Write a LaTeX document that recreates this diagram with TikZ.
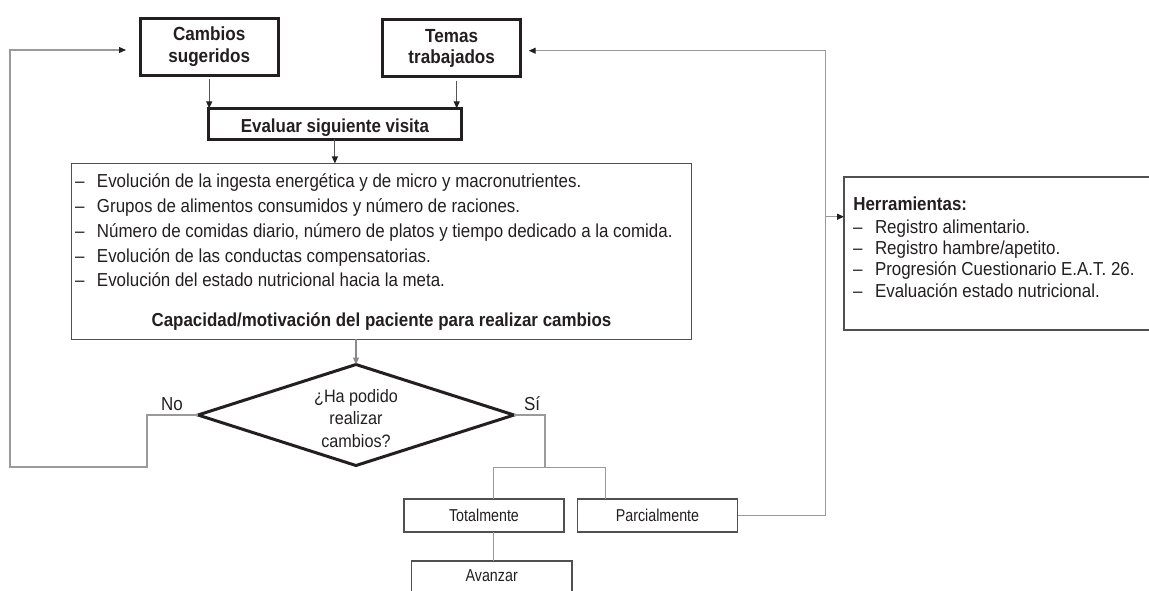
\documentclass[tikz,border=0pt]{standalone}
\usepackage{fontspec}
\setmainfont{Liberation Sans}[FakeStretch=0.9]
\newfontfamily\narrowsans{Liberation Sans}[FakeStretch=0.83]
\usetikzlibrary{arrows.meta,shapes.geometric}

\definecolor{ink}{HTML}{231F20}
\definecolor{framegray}{HTML}{505050}
\definecolor{wiregray}{HTML}{9A9A9A}
\definecolor{stemgray}{HTML}{555555}
\definecolor{midgray}{HTML}{8A8A8A}

% dash that opens every bullet line
\newcommand{\listdash}{\makebox[22pt][l]{–}}

\begin{document}
\begin{tikzpicture}[
  x=1pt, y=-1pt,
  every node/.style={text=ink, inner sep=0pt, outer sep=0pt},
  txt/.style={font=\fontsize{18.8}{22}\selectfont},
  btxt/.style={font=\bfseries\fontsize{18.8}{22}\selectfont},
  smalltxt/.style={font=\narrowsans\fontsize{17.2}{20}\selectfont},
  heavybox/.style={rectangle, draw=ink, line width=3pt},
  lightbox/.style={rectangle, draw=framegray, line width=1.5pt},
  link/.style={draw=wiregray, line width=1.1pt},
  stemline/.style={draw=stemgray, line width=1.1pt},
  greyline/.style={draw=midgray, line width=1.1pt},
  darktip/.style={-{Triangle[length=7pt,width=6pt,color=ink]}},
  greytip/.style={-{Triangle[length=7pt,width=6pt,color=midgray]}},
]
\useasboundingbox (0,0) rectangle (1149,590);
\clip (0,0) rectangle (1149,590);

% ---- top row ----
\node[heavybox, minimum width=138.4pt, minimum height=56.7pt, align=center,
      font=\bfseries\fontsize{19}{21.6}\selectfont] (cambios) at (209.2,46.7) {Cambios\\sugeridos};
\node[heavybox, minimum width=138pt, minimum height=56.7pt, align=center,
      font=\bfseries\fontsize{19}{21.6}\selectfont] (temas) at (451.7,48.3) {Temas\\trabajados};
\node[heavybox, minimum width=253pt, minimum height=31pt, btxt,
      text height=16.8pt, text depth=0pt] (eval) at (334.9,123.9) {Evaluar siguiente visita};

% ---- evaluation criteria ----
\node[lightbox, minimum width=619.6pt, minimum height=175.9pt] (crit) at (381.5,251.4) {};
\node[txt, anchor=base west] (c1) at (75,187.7) {\listdash Evolución de la ingesta energética y de micro y macronutrientes.};
\node[txt, anchor=base west] (c2) at (75,212.5) {\listdash Grupos de alimentos consumidos y número de raciones.};
\node[txt, anchor=base west] (c3) at (75,237.2) {\listdash Número de comidas diario, número de platos y tiempo dedicado a la comida.};
\node[txt, anchor=base west] (c4) at (75,262) {\listdash Evolución de las conductas compensatorias.};
\node[txt, anchor=base west] (c5) at (75,286.7) {\listdash Evolución del estado nutricional hacia la meta.};
\node[btxt, anchor=base] (cap) at (381.5,326) {Capacidad/motivación del paciente para realizar cambios};

% ---- tools ----
\node[lightbox, minimum width=316pt, minimum height=153.3pt] (herr) at (1002,253.4) {};
\node[btxt, anchor=base west] (h0) at (853.3,210.5) {Herramientas:};
\node[txt, anchor=base west] (h1) at (853,233.5) {\listdash Registro alimentario.};
\node[txt, anchor=base west] (h2) at (853,254.7) {\listdash Registro hambre/apetito.};
\node[txt, anchor=base west] (h3) at (853,275.9) {\listdash Progresión Cuestionario E.A.T. 26.};
\node[txt, anchor=base west] (h4) at (853,297) {\listdash Evaluación estado nutricional.};

% ---- decision ----
\node[diamond, draw=ink, line width=3pt, minimum width=316pt, minimum height=101pt] (dia) at (356,415) {};
\node[align=center, font=\fontsize{18}{22.5}\selectfont] (diaq) at (356,418.2) {¿Ha podido\\realizar\\cambios?};
\node[txt, anchor=base] (nolab) at (172,410) {No};
\node[txt, anchor=base] (silab) at (532,410) {Sí};

% ---- outcomes ----
\node[lightbox, minimum width=160.4pt, minimum height=33.1pt, smalltxt,
      text height=12.8pt, text depth=0pt] (tot) at (484,515.3) {Totalmente};
\node[lightbox, minimum width=160pt, minimum height=33.1pt, smalltxt,
      text height=12.8pt, text depth=0pt] (parc) at (657.5,515.3) {Parcialmente};
\node[lightbox, minimum width=160.4pt, minimum height=39.2pt, smalltxt,
      text height=12.6pt, text depth=10pt] (avz) at (491.7,580.4) {Avanzar};

% ---- connectors ----
\draw[stemline, darktip, shorten <=4pt] (cambios.south) -- (cambios.south |- eval.north);
\draw[stemline, darktip, shorten <=4pt] ([xshift=5pt]temas.south) -- ([xshift=5pt]temas.south |- eval.north);
\draw[stemline, darktip] (eval.south) -- (eval.south |- crit.north);
\draw[greyline, greytip] (crit.south -| dia.north) -- (dia.north);

% "No" loop back to the suggested changes
\coordinate (noturn) at (147,415);
\coordinate (nobottom) at (10,467);
\draw[link, darktip, shorten >=14pt] (dia.west) -- (noturn) |- (nobottom) |- ([yshift=-3.3pt]cambios.west);

% "Sí" fork
\coordinate (siturn) at (545,415);
\coordinate (fork) at (545,467.7);
\coordinate (forkL) at (493.3,467.7);
\coordinate (forkR) at (605.7,467.7);
\draw[link] (dia.east) -- (siturn) -- (fork);
\draw[link] (forkL) -- (forkR);
\draw[link] (forkL) -- (forkL |- tot.north);
\draw[link] (forkR) -- (forkR |- parc.north);
\draw[link] (forkL |- tot.south) -- (forkL |- avz.north);

% partial progress loops back to the topics and the tools
\coordinate (partturn) at (825.5,515.3);
\coordinate (toolsfork) at (825.5,216.7);
\draw[link, darktip, shorten >=8pt] (parc.east) -- (partturn) |- ([yshift=-2.4pt]temas.east);
\draw[link, darktip] (toolsfork) -- (toolsfork -| herr.west);
\end{tikzpicture}
\end{document}
